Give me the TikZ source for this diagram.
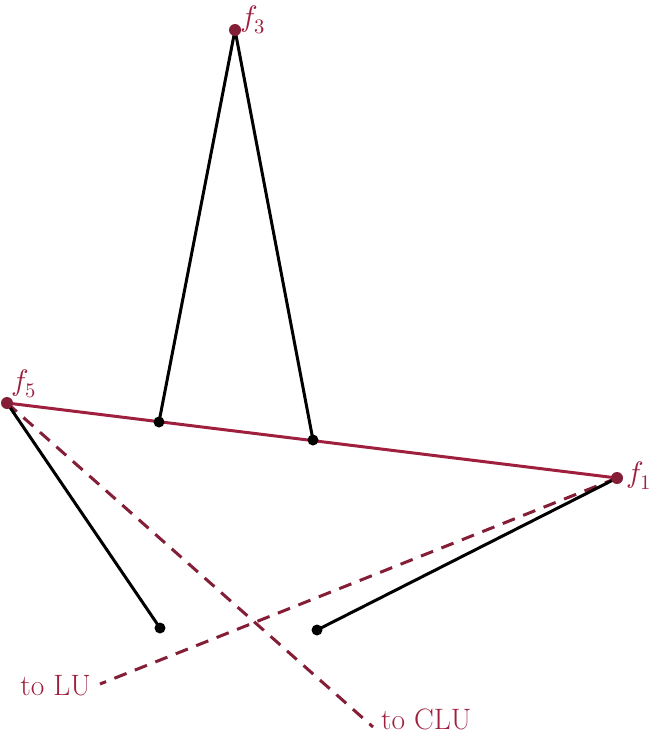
\documentclass[tikz,border=0pt]{standalone}
\usepackage{fontspec}
\setmainfont{Latin Modern Roman}
\usepackage{unicode-math}
\setmathfont{Latin Modern Math}
\definecolor{wine}{RGB}{158,32,62}
\definecolor{winedark}{RGB}{132,30,55}
\newcommand\labfont{\fontsize{29.5pt}{35pt}\selectfont}
\tikzset{
  blk/.style={line width=3pt, black},
  redline/.style={line width=3pt, wine},
  dashline/.style={line width=3pt, winedark, dash pattern=on 13pt off 9pt},
  rdot/.style={circle, fill=winedark, inner sep=0pt, minimum size=12pt},
  bdot/.style={circle, fill=black, inner sep=0pt, minimum size=11pt},
  lab/.style={text=wine, inner sep=0pt}
}
\begin{document}
\begin{tikzpicture}[x=1pt,y=-1pt]
\useasboundingbox (0,0) rectangle (655,736);
\coordinate (f3) at (235,30);
\coordinate (f5) at (7,403);
\coordinate (f1) at (617,478);
\coordinate (a) at (159,422);
\coordinate (b) at (313,440);
\coordinate (c) at (160,628);
\coordinate (d) at (317,630);
\coordinate (lu) at (100,684);
\coordinate (clu) at (373,727);
% dashed connectors
\draw[dashline] (f5) -- (clu);
\draw[dashline] (f1) -- (lu);
% black connectors
\draw[blk] (f3) -- (a);
\draw[blk] (f3) -- (b);
\draw[blk] (f5) -- (c);
\draw[blk] (f1) -- (d);
% red line
\draw[redline] (f5) -- (f1);
% dots
\node[bdot] (da) at (a) {};
\node[bdot] (db) at (b) {};
\node[bdot] (dc) at (c) {};
\node[bdot] (dd) at (d) {};
\node[rdot] (d3) at (f3) {};
\node[rdot] (d5) at (f5) {};
\node[rdot] (d1) at (f1) {};
% labels
\node[lab, anchor=base west] (l3) at (240,26) {\labfont$f_3$};
\node[lab, anchor=base west] (l5) at (11,390) {\labfont$f_5$};
\node[lab, anchor=base west] (l1) at (626,482) {\labfont$f_1$};
\node[lab, anchor=base east] (llu) at (91,695) {\labfont to LU};
\node[lab, anchor=base west] (lclu) at (381,729) {\labfont to CLU};
\end{tikzpicture}
\end{document}
